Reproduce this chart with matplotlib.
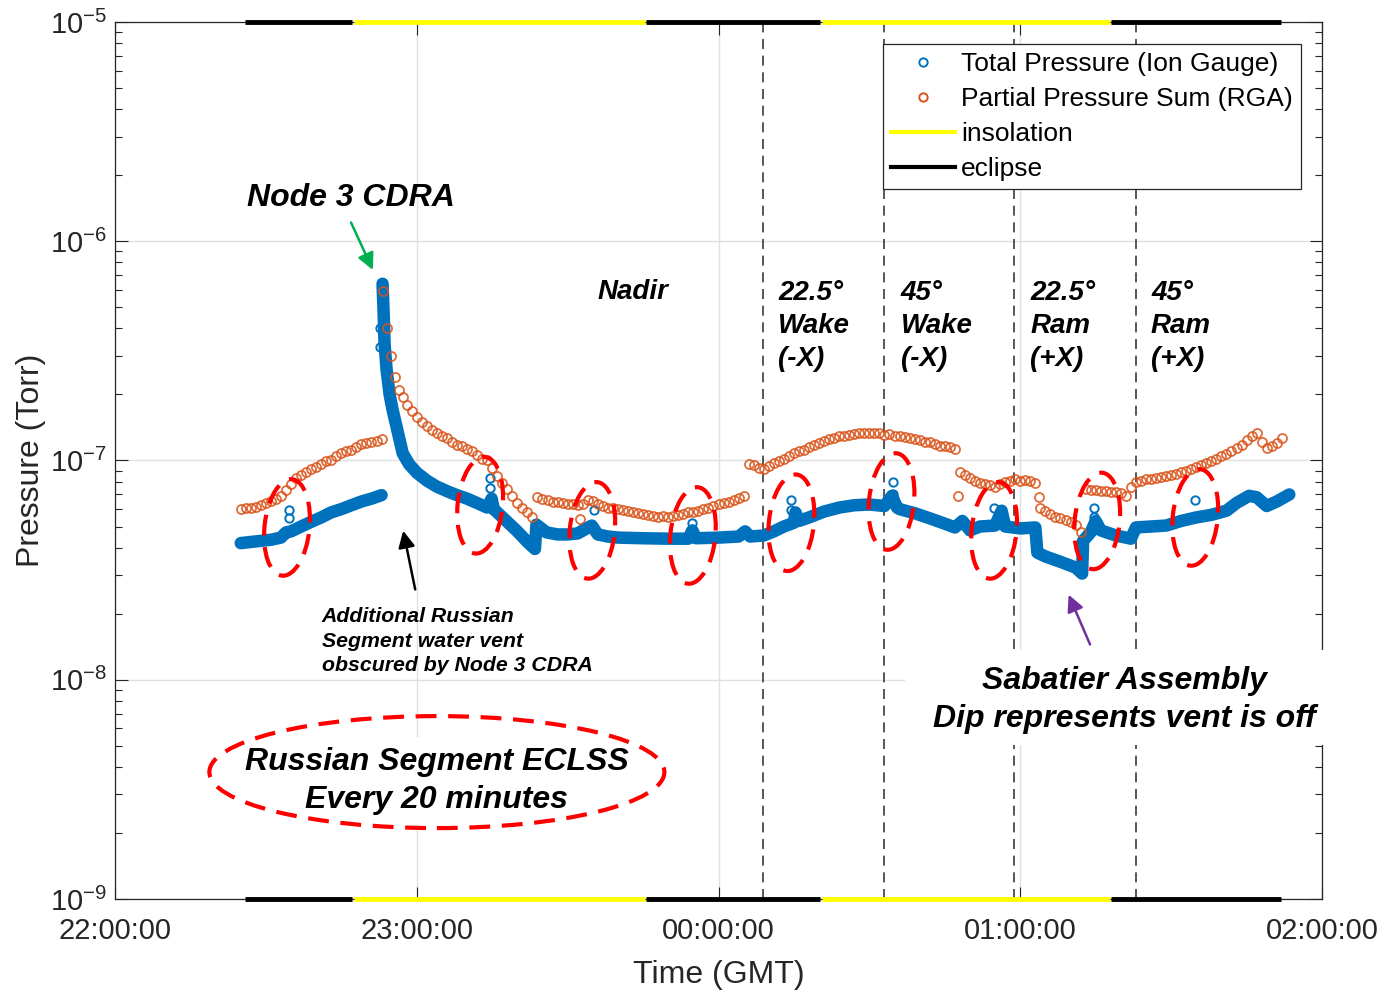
import numpy as np
import matplotlib.pyplot as plt
from matplotlib.lines import Line2D
from matplotlib.patches import Ellipse, Rectangle
from matplotlib.transforms import IdentityTransform

plt.rcParams['font.family'] = ['Liberation Sans', 'DejaVu Sans']
plt.rcParams['mathtext.default'] = 'regular'

# time axis is minutes after 22:00:00 GMT
xtick_pos = [0, 60, 120, 180, 240]
xtick_labels = ['22:00:00', '23:00:00', '00:00:00', '01:00:00', '02:00:00']

# ion gauge total pressure (Torr), before the Node 3 CDRA burst
ion_t_a = [25, 27, 29, 31, 33, 34, 35, 37, 39, 41, 43, 45, 47, 49, 51, 53]
ion_p_a = [4.2e-8, 4.25e-8, 4.3e-8, 4.35e-8, 4.45e-8, 4.7e-8, 4.75e-8, 5.0e-8,
           5.25e-8, 5.5e-8, 5.8e-8, 6.0e-8, 6.25e-8, 6.5e-8, 6.7e-8, 6.95e-8]

# ion gauge total pressure from the burst to the end of the pass
ion_t_b = [53.2, 53.4, 53.6, 54.0, 54.6, 55.2, 56.0, 57.2, 58.5, 60,
           62, 64, 66, 68, 70, 72, 74, 74.9, 75.3, 76,
           78, 80, 82, 83.5, 83.8, 85.8, 88, 90, 92, 94.8,
           96, 98, 100, 105, 110, 114, 114.8, 115.5, 120, 124,
           125.3, 126.3, 129, 131, 133, 135, 135.3, 136, 138, 141,
           144, 147, 150, 153, 154.5, 155.5, 156, 159, 162, 165,
           167, 168.5, 170, 172, 175, 176.3, 177, 180, 183, 183.4,
           185, 188, 191, 192.3, 192.5, 194, 195, 196, 199, 202,
           203, 206, 209, 212, 215, 218, 221, 223, 225.5, 227,
           229, 231, 233.5]
ion_p_b = [6.4e-7, 4.8e-7, 3.4e-7, 2.6e-7, 2.0e-7, 1.7e-7, 1.42e-7, 1.08e-7, 9.6e-8, 8.8e-8,
           8.1e-8, 7.6e-8, 7.25e-8, 6.95e-8, 6.7e-8, 6.4e-8, 6.1e-8, 6.7e-8, 6.0e-8, 5.8e-8,
           5.25e-8, 4.75e-8, 4.25e-8, 3.95e-8, 5.1e-8, 4.7e-8, 4.6e-8, 4.6e-8, 4.65e-8, 5.05e-8,
           4.6e-8, 4.5e-8, 4.45e-8, 4.42e-8, 4.4e-8, 4.4e-8, 4.8e-8, 4.42e-8, 4.45e-8, 4.5e-8,
           4.75e-8, 4.5e-8, 4.55e-8, 4.75e-8, 5.0e-8, 5.2e-8, 5.8e-8, 5.3e-8, 5.5e-8, 5.85e-8,
           6.1e-8, 6.25e-8, 6.3e-8, 6.2e-8, 6.9e-8, 6.1e-8, 6.0e-8, 5.75e-8, 5.45e-8, 5.15e-8,
           4.95e-8, 5.3e-8, 4.8e-8, 5.0e-8, 5.05e-8, 5.9e-8, 5.0e-8, 4.9e-8, 4.95e-8, 3.8e-8,
           3.65e-8, 3.45e-8, 3.25e-8, 3.05e-8, 4.3e-8, 4.7e-8, 5.3e-8, 4.8e-8, 4.55e-8, 4.4e-8,
           4.95e-8, 5.0e-8, 5.05e-8, 5.3e-8, 5.5e-8, 5.65e-8, 5.9e-8, 6.4e-8, 6.9e-8, 6.8e-8,
           6.2e-8, 6.5e-8, 7.0e-8]

# isolated ion gauge readings (Russian segment vents)
ion_out_t = [34.6, 34.6, 52.7, 52.7, 74.5, 74.5, 93.2, 95.2, 114.8,
             134.5, 134.5, 154.6, 154.6, 174.8, 194.7, 194.7, 214.8]
ion_out_p = [5.94e-8, 5.45e-8, 4.0e-7, 3.3e-7, 8.3e-8, 7.5e-8, 5.0e-8, 5.94e-8, 5.2e-8,
             6.6e-8, 5.94e-8, 8.0e-8, 7.0e-8, 6.1e-8, 6.1e-8, 5.5e-8, 6.6e-8]

# RGA partial pressure sum, one scan per minute, in units of 1e-8 Torr
rga_start_1 = 25
rga_p_1 = [6.0, 6.05, 6.1, 6.15, 6.25, 6.4, 6.55, 6.7, 6.9, 7.3, 7.8, 8.3, 8.6, 8.85, 9.1,
           9.3, 9.6, 9.9, 10.1, 10.5, 10.8, 11.0, 11.2, 11.5, 11.9, 12.0, 12.1, 12.3, 12.5]
rga_t_2 = [53.2, 54.0, 54.8, 55.6, 56.4, 57.2, 58, 59, 60, 61, 62, 63, 64, 65, 66, 67,
           68, 69, 70, 71, 72, 73, 74, 75, 76, 77, 78, 79, 80, 81, 82, 83]
rga_p_2 = [59, 40, 30, 24, 21, 19.5, 18, 16.8, 15.8, 15, 14.3, 13.8, 13.3, 12.9, 12.6, 12.2,
           11.8, 11.6, 11.3, 11.0, 10.6, 10.2, 10.0, 9.2, 8.5, 7.9, 7.4, 6.9, 6.4, 6.1, 5.8, 5.5]
rga_start_3 = 84
rga_p_3 = [6.8, 6.7, 6.6, 6.5, 6.45, 6.4, 6.35, 6.3, 6.25, 6.35, 6.6, 6.55, 6.3, 6.2,
           6.1, 6.05, 6.0, 5.95, 5.9, 5.8, 5.75, 5.7, 5.65, 5.6, 5.55, 5.6, 5.55, 5.6,
           5.65, 5.7, 5.8, 5.85, 5.9, 6.0, 6.1, 6.2, 6.3, 6.4, 6.5, 6.6, 6.75, 6.9]
rga_start_4 = 126
rga_p_4 = [9.6, 9.5, 9.2, 9.1, 9.4, 9.7, 9.9, 10.2, 10.5, 10.8, 11.0, 11.2, 11.5, 11.8,
           12.0, 12.3, 12.5, 12.7, 12.9, 13.0, 13.1, 13.2, 13.3, 13.3, 13.4, 13.3, 13.3, 13.1,
           13.2, 13.0, 12.9, 12.8, 12.7, 12.5, 12.4, 12.2, 12.1, 11.9, 11.7, 11.6, 11.5, 11.3]
rga_start_5 = 168
rga_p_5 = [8.9, 8.6, 8.3, 8.1, 7.9, 7.8, 7.7, 7.6, 7.8, 8.0, 8.1, 8.2, 8.1, 8.15, 8.1, 7.9]
rga_start_6 = 184
rga_p_6 = [6.1, 5.9, 5.7, 5.55, 5.45, 5.35, 5.25, 5.1, 4.7]
rga_start_7 = 193
rga_p_7 = [7.4, 7.3, 7.3, 7.25, 7.25, 7.2, 7.2, 7.1, 6.9, 7.6, 8.0, 8.1, 8.2, 8.2, 8.3,
           8.4, 8.5, 8.6, 8.7, 8.9, 9.0, 9.1, 9.3, 9.5, 9.7, 9.9, 10.2, 10.5, 10.7, 11.0,
           11.4, 11.8, 12.4, 13.0, 13.3, 12.2, 11.4, 11.6, 12.0, 12.7]
rga_out_t = [92.4, 167.7, 183.8]
rga_out_p = [5.4, 6.9, 6.8]

# orbit day/night periods (minutes)
eclipse_start = [25.8, 105.6, 198.1]
eclipse_end = [47.2, 140.2, 231.9]
insolation_start = [47.5, 140.6]
insolation_end = [105.3, 197.8]

# attitude changes
attitude_t = [128.75, 153.0, 178.8, 203.1]
attitude_labels = ['22.5°\nWake\n(-X)', '45°\nWake\n(-X)', '22.5°\nRam\n(+X)', '45°\nRam\n(+X)']
attitude_label_t = [131.9, 156.2, 182.0, 206.0]

# Russian segment vent events circled on the plot
vent_t = [34.2, 72.6, 94.9, 114.9, 134.5, 154.4, 174.8, 195.3, 214.8]
vent_p = [4.95e-8, 6.25e-8, 4.8e-8, 4.55e-8, 5.2e-8, 6.5e-8, 4.8e-8, 5.3e-8, 5.5e-8]

blue = '#0072BD'
orange = '#D95319'

rga_t = (list(range(rga_start_1, rga_start_1 + len(rga_p_1))) + rga_t_2
         + list(range(rga_start_3, rga_start_3 + len(rga_p_3)))
         + list(range(rga_start_4, rga_start_4 + len(rga_p_4)))
         + list(range(rga_start_5, rga_start_5 + len(rga_p_5)))
         + list(range(rga_start_6, rga_start_6 + len(rga_p_6)))
         + list(range(rga_start_7, rga_start_7 + len(rga_p_7))) + rga_out_t)
rga_p = np.array(rga_p_1 + rga_p_2 + rga_p_3 + rga_p_4 + rga_p_5 + rga_p_6 + rga_p_7
                 + rga_out_p) * 1e-8

fig = plt.figure(figsize=(13.84, 9.9), dpi=100)
ax = fig.add_axes([0.0831, 0.0919, 0.8721, 0.8859])
ax.set_yscale('log')
ax.set_xlim(0, 240)
ax.set_ylim(1e-9, 1e-5)

# dense ion gauge samples form a solid band
band = dict(color=blue, lw=9, solid_capstyle='round', solid_joinstyle='round', zorder=3)
ax.plot(ion_t_a, ion_p_a, **band)
ax.plot(ion_t_b, ion_p_b, **band)
ax.plot(ion_out_t, ion_out_p, ls='none', marker='o', ms=6, mfc='none', mec=blue,
        mew=1.4, zorder=3)
ax.plot(rga_t, rga_p, ls='none', marker='o', ms=6.5, mfc='none', mec=orange,
        mew=1.3, alpha=0.85, zorder=3)

for t in attitude_t:
    ax.axvline(t, color='#3a3a3a', lw=1.2, ls=(0, (6, 4)), zorder=2)

for t0, t1 in zip(eclipse_start, eclipse_end):
    for y in (1e-9, 1e-5):
        ax.plot([t0, t1], [y, y], color='black', lw=3.5, solid_capstyle='butt',
                clip_on=False, zorder=6)
for t0, t1 in zip(insolation_start, insolation_end):
    for y in (1e-9, 1e-5):
        ax.plot([t0, t1], [y, y], color='#FFFF00', lw=3.5, solid_capstyle='butt',
                clip_on=False, zorder=6)

ax.set_xticks(xtick_pos)
ax.set_xticklabels(xtick_labels)
ax.grid(True, which='major', color='#e0e0e0', lw=1.0)
ax.set_axisbelow(True)
ax.tick_params(axis='both', which='both', direction='in', top=True, right=True,
               colors='#262626', labelsize=21)
ax.tick_params(axis='both', which='major', length=9, width=0.8)
ax.tick_params(axis='y', which='minor', length=5, width=0.8)
ax.tick_params(axis='x', pad=13)
ax.tick_params(axis='y', pad=6)
for s in ax.spines.values():
    s.set_color('#262626')
    s.set_linewidth(0.9)

ax.set_xlabel('Time (GMT)', fontsize=23, color='#262626')
ax.set_ylabel('Pressure (Torr)', fontsize=23, color='#262626')
ax.xaxis.set_label_coords(0.5, -0.069)
ax.yaxis.set_label_coords(-0.057, 0.5)

handles = [
    Line2D([], [], ls='none', marker='o', ms=6, mfc='none', mec=blue, mew=1.4),
    Line2D([], [], ls='none', marker='o', ms=6, mfc='none', mec=orange, mew=1.4),
    Line2D([], [], color='#FFFF00', lw=3),
    Line2D([], [], color='black', lw=3),
]
leg = ax.legend(handles, ['Total Pressure (Ion Gauge)', 'Partial Pressure Sum (RGA)',
                          'insolation', 'eclipse'],
                loc='upper right', bbox_to_anchor=(0.9826, 0.9749), borderaxespad=0,
                fontsize=19, fancybox=False, framealpha=1, edgecolor='#262626',
                handlelength=2.4, handletextpad=0.25, labelspacing=0.42, borderpad=0.3)
leg.get_frame().set_linewidth(0.9)
leg.set_zorder(7)

bi = dict(fontweight='bold', fontstyle='italic', color='black')
ax.text(26.2, 1.57e-6, 'Node 3 CDRA', fontsize=23, va='center', ha='left', **bi)
ax.text(96.0, 5.87e-7, 'Nadir', fontsize=20, va='center', ha='left', **bi)
for t, lab in zip(attitude_label_t, attitude_labels):
    ax.text(t, 4.1e-7, lab, fontsize=20, va='center', ha='left', linespacing=1.35, **bi)
ax.text(41.1, 1.5e-8, 'Additional Russian\nSegment water vent\nobscured by Node 3 CDRA',
        fontsize=15.3, va='center', ha='left', linespacing=1.36, **bi)

# white panel behind the Sabatier note, running over the right spine
ax.add_patch(Rectangle((0.6545, 0.1756), 0.355, 0.1083, transform=ax.transAxes,
                       facecolor='white', edgecolor='none', clip_on=False, zorder=4))
ax.text(200.7, 8.09e-9, 'Sabatier Assembly\nDip represents vent is off', fontsize=23,
        va='center', ha='center', linespacing=1.35, zorder=5, **bi)
ax.text(64.0, 3.45e-9, 'Russian Segment ECLSS\nEvery 20 minutes', fontsize=23,
        va='center', ha='center', linespacing=1.35, zorder=5,
        bbox=dict(boxstyle='square,pad=0.3', fc='white', ec='none'), **bi)

ax.annotate('', xy=(51.5, 7.2e-7), xytext=(46.7, 1.25e-6),
            arrowprops=dict(arrowstyle='-|>', color='#00B050', lw=1.8, mutation_scale=25))
ax.annotate('', xy=(57.2, 4.92e-8), xytext=(59.8, 2.51e-8),
            arrowprops=dict(arrowstyle='-|>', color='black', lw=1.8, mutation_scale=25))
ax.annotate('', xy=(189.4, 2.51e-8), xytext=(194.1, 1.41e-8),
            arrowprops=dict(arrowstyle='-|>', color='#7030A0', lw=1.8, mutation_scale=25))

# dashed red rings around the vent events (sized in pixels)
ring = dict(fill=False, edgecolor='#FF0000', lw=3, ls=(0, (5, 2.8)),
            transform=IdentityTransform(), zorder=6)
for t, p in zip(vent_t, vent_p):
    cx, cy = ax.transData.transform((t, p))
    ax.add_patch(Ellipse((cx, cy), 45, 97, angle=-6, **ring))
cx, cy = ax.transData.transform((64.0, 3.45e-9))
ax.add_patch(Ellipse((cx, cy + 9), 455, 112, **ring))

fig.savefig('out.png', dpi=100)
